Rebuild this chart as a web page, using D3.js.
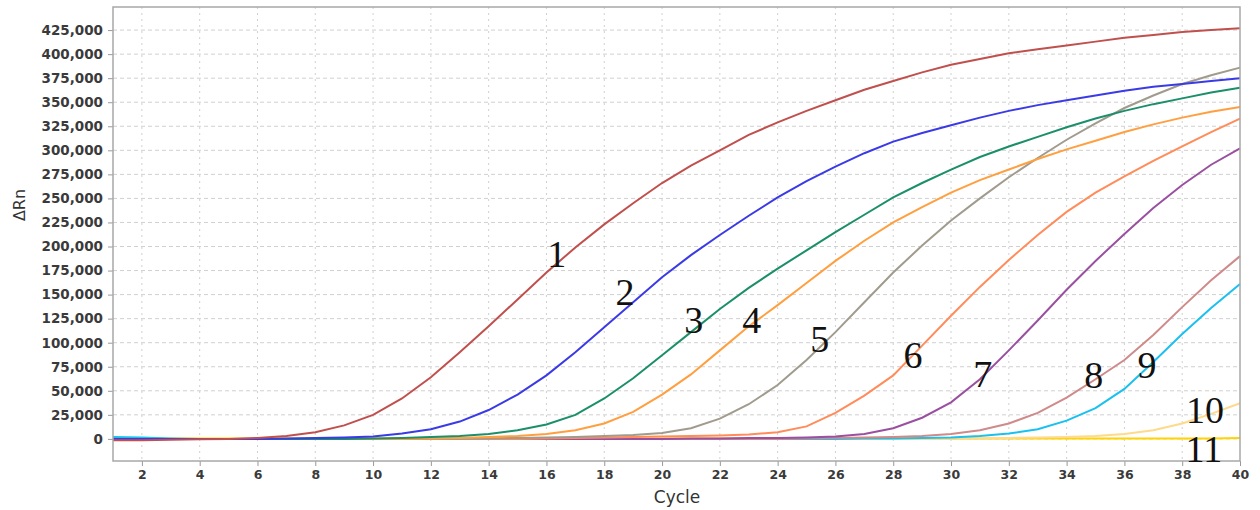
<!DOCTYPE html>
<html>
<head>
<meta charset="utf-8">
<script src="https://cdn.jsdelivr.net/npm/d3@7"></script>
<style>
  body { margin: 0; background: #fff; }
  .tick text { font-family: "DejaVu Sans", sans-serif; font-weight: bold; fill: #3a3a3a; }
  .y-axis .tick text { font-size: 13.5px; }
  .x-axis .tick text { font-size: 12.5px; }
  .tick line { stroke: #999; }
</style>
</head>
<body>
<svg id="chart" width="1260" height="510"></svg>
<script>
// cycles on the x axis
var cycles = [1, 2, 3, 4, 5, 6, 7, 8, 9, 10, 11, 12, 13, 14, 15, 16, 17, 18, 19, 20,
  21, 22, 23, 24, 25, 26, 27, 28, 29, 30, 31, 32, 33, 34, 35, 36, 37, 38, 39, 40];

// delta Rn per curve, one value per cycle
var curve1 = [-1500, -1500, -1000, -500, 0, 1000, 3000, 7000, 14000, 25000, 42000, 64000, 90000, 117000, 145000, 173000, 199000, 223000, 245000, 266000,
  284000, 300000, 316000, 329000, 341000, 352000, 363000, 372000, 381000, 389000, 395000, 401000, 405000, 409000, 413000, 417000, 420000, 423000, 425000, 427000];
var curve2 = [0, 0, 0, 0, 0, 0, 500, 1000, 1500, 2500, 5500, 10000, 18000, 30000, 46000, 66000, 90000, 116000, 142000, 168000,
  191000, 212000, 232000, 251000, 268000, 283000, 297000, 309000, 318000, 326000, 334000, 341000, 347000, 352000, 357000, 362000, 366000, 369000, 372000, 375000];
var curve3 = [0, 0, 0, 0, 0, 0, 0, 0, 0, 500, 1000, 2000, 3000, 5000, 9000, 15000, 25000, 42000, 63000, 87000,
  111000, 135000, 157000, 177000, 196000, 215000, 233000, 251000, 266000, 280000, 293000, 304000, 314000, 324000, 333000, 341000, 348000, 354000, 360000, 365000];
var curve4 = [0, 0, 0, 0, 0, 0, 0, 0, 0, 0, 0, 500, 1000, 2000, 3000, 5000, 9000, 16000, 28000, 46000,
  67000, 92000, 117000, 139000, 162000, 185000, 206000, 225000, 241000, 256000, 269000, 280000, 291000, 301000, 310000, 319000, 327000, 334000, 340000, 345000];
var curve5 = [0, 0, 0, 0, 0, 0, 0, 0, 0, 0, 0, 0, 0, 500, 1000, 1500, 2000, 3000, 4000, 6000,
  11000, 21000, 36000, 56000, 82000, 111000, 142000, 173000, 201000, 227000, 250000, 272000, 292000, 311000, 328000, 344000, 357000, 369000, 378000, 386000];
var curve6 = [0, 0, 0, 0, 0, 0, 0, 0, 0, 0, 0, 0, 0, 0, 0, 500, 1000, 1500, 2000, 2500,
  3000, 3500, 4500, 7000, 13000, 27000, 45000, 66000, 97000, 128000, 158000, 186000, 212000, 236000, 256000, 273000, 289000, 304000, 319000, 333000];
var curve7 = [0, 0, 0, 0, 0, 0, 0, 0, 0, 0, 0, 0, 0, 0, 0, 0, 0, 0, 0, 0,
  500, 500, 1000, 1000, 1500, 2500, 5000, 11000, 22000, 38000, 62000, 92000, 123000, 155000, 185000, 213000, 240000, 264000, 285000, 302000];
var curve8 = [0, 0, 0, 0, 0, 0, 0, 0, 0, 0, 0, 0, 0, 0, 0, 0, 0, 0, 0, 0,
  0, 0, 0, 0, 500, 1000, 1500, 2000, 3000, 5000, 9000, 16000, 27000, 43000, 62000, 82000, 108000, 137000, 165000, 190000];
var curve9 = [2000, 1500, 500, 0, 0, 0, 0, 0, 0, 0, 0, 0, 0, 0, 0, 0, 0, 0, 0, 0,
  0, 0, 0, 0, 0, 0, 500, 500, 1000, 1500, 3000, 5500, 10000, 19000, 32000, 52000, 80000, 109000, 136000, 161000];
var curve10 = [0, 0, 0, 0, 0, 0, 0, 0, 0, 0, 0, 0, 0, 0, 0, 0, 0, 0, 0, 0,
  0, 0, 0, 0, 0, 0, 0, 0, 0, 500, 500, 1000, 1500, 2000, 3000, 5000, 9000, 16000, 26000, 37000];
var curve11 = [500, 500, 500, 500, 500, 500, 500, 500, 500, 500, 500, 500, 500, 500, 500, 500, 500, 500, 500, 500,
  500, 500, 500, 500, 500, 500, 500, 500, 500, 500, 500, 500, 500, 500, 500, 500, 500, 500, 500, 800];

var curveNames = ["1", "2", "3", "4", "5", "6", "7", "8", "9", "10", "11"];
// where each curve number is written (cycle, delta Rn)
var labelCycles = [16.36, 18.72, 21.1, 23.1, 25.46, 28.68, 31.1, 34.94, 36.78, 38.79, 38.75];
var labelValues = [179000, 139000, 110000, 110000, 90000, 74000, 54000, 53000, 63000, 16000, -24000];

var xTicks = [2, 4, 6, 8, 10, 12, 14, 16, 18, 20, 22, 24, 26, 28, 30, 32, 34, 36, 38, 40];
var yTicks = [0, 25000, 50000, 75000, 100000, 125000, 150000, 175000, 200000, 225000,
  250000, 275000, 300000, 325000, 350000, 375000, 400000, 425000];

var colors = ["#c0504d", "#3a3ae6", "#1b8f6a", "#ff9f40", "#a09b8c", "#ff8c5a",
  "#9a50a0", "#cf8a8a", "#1ac0ef", "#ffd98c", "#ffd400"];

var series = [curve1, curve2, curve3, curve4, curve5, curve6, curve7, curve8, curve9, curve10, curve11];

// plot box
var plotLeft = 113, plotRight = 1240, plotTop = 7, plotBottom = 461;

var svg = d3.select("#chart");

var x = d3.scaleLinear().domain([1, 40]).range([plotLeft, plotRight]);
var y = d3.scaleLinear().domain([-23000, 449000]).range([plotBottom, plotTop]);

// grid
svg.append("g")
  .selectAll("line")
  .data(yTicks)
  .enter()
  .append("line")
  .attr("x1", plotLeft)
  .attr("x2", plotRight)
  .attr("y1", function (d) { return y(d); })
  .attr("y2", function (d) { return y(d); })
  .attr("stroke", "#d0d0d0")
  .attr("stroke-width", 1)
  .attr("stroke-dasharray", "4,3");

svg.append("g")
  .selectAll("line")
  .data(xTicks.slice(0, -1))
  .enter()
  .append("line")
  .attr("x1", function (d) { return x(d); })
  .attr("x2", function (d) { return x(d); })
  .attr("y1", plotTop)
  .attr("y2", plotBottom)
  .attr("stroke", "#d0d0d0")
  .attr("stroke-width", 1)
  .attr("stroke-dasharray", "2,4");

// axes
var yAxis = d3.axisLeft(y)
  .tickValues(yTicks)
  .tickSize(5)
  .tickPadding(5)
  .tickFormat(d3.format(","));

svg.append("g")
  .attr("class", "y-axis")
  .attr("transform", "translate(" + plotLeft + ",0)")
  .call(yAxis)
  .call(function (g) { g.select(".domain").remove(); });

var xAxis = d3.axisBottom(x)
  .tickValues(xTicks)
  .tickSize(5)
  .tickPadding(4);

svg.append("g")
  .attr("class", "x-axis")
  .attr("transform", "translate(0," + plotBottom + ")")
  .call(xAxis)
  .call(function (g) { g.select(".domain").remove(); });

// curves
var line = d3.line()
  .x(function (d, i) { return x(cycles[i]); })
  .y(function (d) { return y(d); });

svg.append("g")
  .selectAll("path")
  .data(series.slice().reverse())
  .enter()
  .append("path")
  .attr("d", line)
  .attr("fill", "none")
  .attr("stroke", function (d, i) { return colors[series.length - 1 - i]; })
  .attr("stroke-width", 2);

// frame
svg.append("rect")
  .attr("x", plotLeft)
  .attr("y", plotTop)
  .attr("width", plotRight - plotLeft)
  .attr("height", plotBottom - plotTop)
  .attr("fill", "none")
  .attr("stroke", "#a8a8a8")
  .attr("stroke-width", 1.5);

// curve numbers
svg.append("g")
  .selectAll("text")
  .data(curveNames)
  .enter()
  .append("text")
  .attr("x", function (d, i) { return x(labelCycles[i]); })
  .attr("y", function (d, i) { return y(labelValues[i]); })
  .attr("text-anchor", "middle")
  .attr("font-family", "'Liberation Serif', 'Times New Roman', serif")
  .attr("font-size", 38)
  .attr("fill", "#111")
  .text(function (d) { return d; });

// axis titles
svg.append("text")
  .attr("x", 677)
  .attr("y", 503)
  .attr("text-anchor", "middle")
  .attr("font-family", "'DejaVu Sans', sans-serif")
  .attr("font-size", 17)
  .attr("fill", "#333")
  .text("Cycle");

svg.append("text")
  .attr("transform", "translate(25,205) rotate(-90)")
  .attr("text-anchor", "middle")
  .attr("font-family", "'DejaVu Sans', sans-serif")
  .attr("font-size", 16)
  .attr("fill", "#333")
  .text("ΔRn");
</script>
</body>
</html>
